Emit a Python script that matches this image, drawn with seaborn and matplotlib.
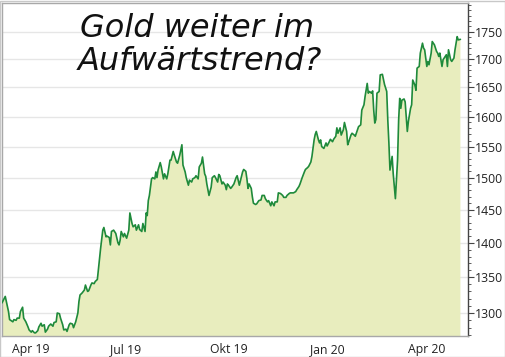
import numpy as np
import pandas as pd
import matplotlib
matplotlib.use("Agg")
import matplotlib.pyplot as plt
import matplotlib.ticker as mticker
from matplotlib.patches import Rectangle
import seaborn as sns

# gold price (days counted from 1 Apr 2019)
start = pd.Timestamp("2019-04-01")
days = [-9, -6, -5, -3, -2, -1, 1, 2, 4, 5, 7, 8, 10, 11, 13, 15, 16, 18, 19, 21, 22, 24, 25, 27,
        28, 30, 31, 33, 34, 36, 38, 39, 41, 42, 44, 45, 47, 48, 50, 51, 53, 54, 56, 57, 59, 61, 62, 63,
        65, 67, 68, 70, 71, 73, 74, 76, 77, 79,
        82, 84, 85, 87, 88, 90, 91, 92, 94, 96, 98, 99, 100, 101, 103, 104, 106, 108, 109, 111,
        112, 114, 115, 117, 118, 120, 121, 123, 124, 125, 126, 127, 129, 130, 132, 133, 134, 135,
        137, 138, 140, 141, 143, 144, 146, 147, 149, 150, 152, 153, 155, 157, 158, 160, 161, 163,
        164, 166, 167, 169, 170, 172, 173, 175, 176, 178,
        179, 180, 182, 184, 185, 187, 188, 190, 191, 192, 194, 195, 197, 198, 199, 200, 202, 203,
        205, 207, 208, 210, 211, 213, 214, 216, 217, 218, 219, 221, 222, 223, 225, 226, 228, 230,
        231, 233, 234, 236, 237, 239, 240, 242, 243, 245, 246, 248, 250, 251, 253, 254, 256, 257,
        259, 260, 262, 263, 265, 266, 268, 270, 271,
        273, 274, 276, 277, 279, 280, 281, 283, 284, 285, 286, 288, 290, 291, 293, 294, 296, 297,
        299, 300, 301, 303, 304, 306, 307, 309, 310, 311, 313, 314, 316, 317, 319, 320, 322, 323,
        325, 326, 328, 329, 330, 332, 333, 334, 335, 336, 337, 339, 340, 342, 344,
        346, 347, 348, 349, 351, 352, 354, 356, 357, 358, 359, 360, 362, 363, 365, 366, 368, 369,
        370, 372, 373, 374, 376, 377, 379, 380, 381, 383, 384, 385, 387, 388, 390, 392, 393, 394,
        395, 397, 398, 399, 401, 402, 403, 405, 406, 408, 409, 411, 412, 414]
prices = [1314, 1323, 1316, 1302, 1291, 1290, 1288, 1291, 1290, 1293, 1293, 1302, 1308, 1293, 1288, 1281, 1277, 1274,
          1276, 1273, 1273, 1276, 1281, 1286, 1282, 1284, 1274, 1278, 1282, 1285, 1282, 1287, 1288, 1300, 1299, 1293,
          1284, 1277, 1278, 1275, 1284, 1286, 1285, 1280, 1288, 1300, 1316, 1325, 1328, 1332, 1339, 1330, 1331, 1339,
          1342, 1341, 1344, 1347,
          1392, 1419, 1423, 1409, 1410, 1408, 1397, 1417, 1419, 1414, 1400, 1397, 1404, 1417, 1409, 1414, 1407, 1419,
          1445, 1429, 1424, 1427, 1419, 1427, 1420, 1417, 1429, 1417, 1445, 1441, 1464, 1472, 1498, 1500, 1498, 1509,
          1500, 1512, 1524, 1517, 1498, 1506, 1498, 1506, 1528, 1528, 1542, 1536, 1525, 1523, 1536, 1553, 1520, 1509,
          1500, 1488, 1496, 1493, 1498, 1500, 1503, 1498, 1517, 1523, 1533, 1506,
          1502, 1490, 1472, 1485, 1500, 1503, 1500, 1493, 1505, 1503, 1490, 1493, 1488, 1481, 1490, 1488, 1483, 1485,
          1490, 1500, 1503, 1488, 1495, 1509, 1513, 1510, 1498, 1483, 1490, 1483, 1470, 1460, 1458, 1459, 1464, 1465,
          1472, 1472, 1467, 1462, 1464, 1456, 1462, 1456, 1462, 1462, 1476, 1475, 1472, 1469, 1469, 1472, 1475, 1476,
          1476, 1476, 1478, 1481, 1486, 1490, 1500, 1509, 1513,
          1516, 1518, 1525, 1534, 1561, 1570, 1575, 1561, 1556, 1561, 1550, 1547, 1556, 1551, 1558, 1562, 1558, 1562,
          1567, 1581, 1572, 1581, 1569, 1578, 1590, 1575, 1553, 1558, 1569, 1572, 1569, 1567, 1578, 1583, 1586, 1611,
          1620, 1634, 1657, 1640, 1643, 1640, 1644, 1611, 1589, 1595, 1640, 1643, 1672, 1673, 1655,
          1643, 1594, 1556, 1512, 1534, 1506, 1467, 1528, 1594, 1631, 1614, 1628, 1630, 1625, 1575, 1592, 1614, 1620,
          1663, 1654, 1645, 1684, 1687, 1711, 1729, 1720, 1717, 1687, 1696, 1690, 1711, 1732, 1726, 1714, 1711, 1705,
          1711, 1687, 1699, 1702, 1708, 1687, 1717, 1699, 1696, 1702, 1717, 1741, 1735, 1736]

y_ticks = [1300, 1350, 1400, 1450, 1500, 1550, 1600, 1650, 1700, 1750]
x_tick_dates = ["2019-04-01", "2019-07-01", "2019-10-01", "2020-01-01", "2020-04-01"]
x_tick_labels = ["Apr 19", "Jul 19", "Okt 19", "Jan 20", "Apr 20"]
title_lines = ["Gold weiter im", "Aufwärtstrend?"]

df = pd.DataFrame({"date": start + pd.to_timedelta(days, unit="D"), "price": prices})

sns.set_style("white")
plt.rcParams["font.family"] = ["Open Sans", "DejaVu Sans"]

W, H = 506, 357
fig = plt.figure(figsize=(W / 100, H / 100), dpi=100)
ax = fig.add_axes([2 / W, 21 / H, 466 / W, 333 / H])

line_color = "#1f8a3b"
fill_color = "#e8edbe"

ax.fill_between(df["date"], df["price"], 1000, color=fill_color, linewidth=0, zorder=2)
sns.lineplot(data=df, x="date", y="price", color=line_color, linewidth=1.2, ax=ax, zorder=3)

ax.set_yscale("log")
ax.set_ylim(1268.8, 1804)
ax.set_xlim(pd.Timestamp("2019-03-23"), pd.Timestamp("2020-05-26"))

ax.yaxis.set_major_locator(mticker.FixedLocator(y_ticks))
ax.yaxis.set_major_formatter(mticker.FixedFormatter([str(v) for v in y_ticks]))
ax.yaxis.set_minor_locator(mticker.FixedLocator(list(range(1270, 1801, 10))))
ax.yaxis.set_minor_formatter(mticker.NullFormatter())
ax.yaxis.tick_right()
ax.tick_params(axis="y", which="major", length=4, width=0.8, color="#444444",
               labelsize=8.8, labelcolor="#222222", pad=1)
ax.tick_params(axis="y", which="minor", length=2, width=0.6, color="#444444")

ax.set_xticks(pd.to_datetime(x_tick_dates))
ax.set_xticklabels(x_tick_labels, ha="left")
ax.xaxis.set_minor_locator(mticker.NullLocator())
ax.tick_params(axis="x", length=3, width=0.8, color="#999999", labelsize=8.8,
               labelcolor="#222222", pad=2)

ax.grid(axis="y", color="#e6e6e6", linewidth=1, zorder=1)
ax.set_axisbelow(True)
ax.set_xlabel("")
ax.set_ylabel("")

for side in ["top", "left", "bottom"]:
    ax.spines[side].set_color("#a8a8a8")
    ax.spines[side].set_linewidth(1)
ax.spines["right"].set_color("#444444")
ax.spines["right"].set_linewidth(1)

title_font = dict(fontsize=23, family=["DejaVu Sans"], weight="light", style="oblique",
                  color="#111111", va="baseline", ha="left")
fig.text(80 / W, 1 - 37 / H, title_lines[0], **title_font)
fig.text(78 / W, 1 - 70.5 / H, title_lines[1], **title_font)

fig.patches.append(Rectangle((0.5 / W, 0.5 / H), 1 - 1.5 / W, 1 - 1.5 / H, transform=fig.transFigure,
                             fill=False, edgecolor="#c8c8c8", linewidth=1))

fig.savefig("out.png", dpi=100)
plt.close()
